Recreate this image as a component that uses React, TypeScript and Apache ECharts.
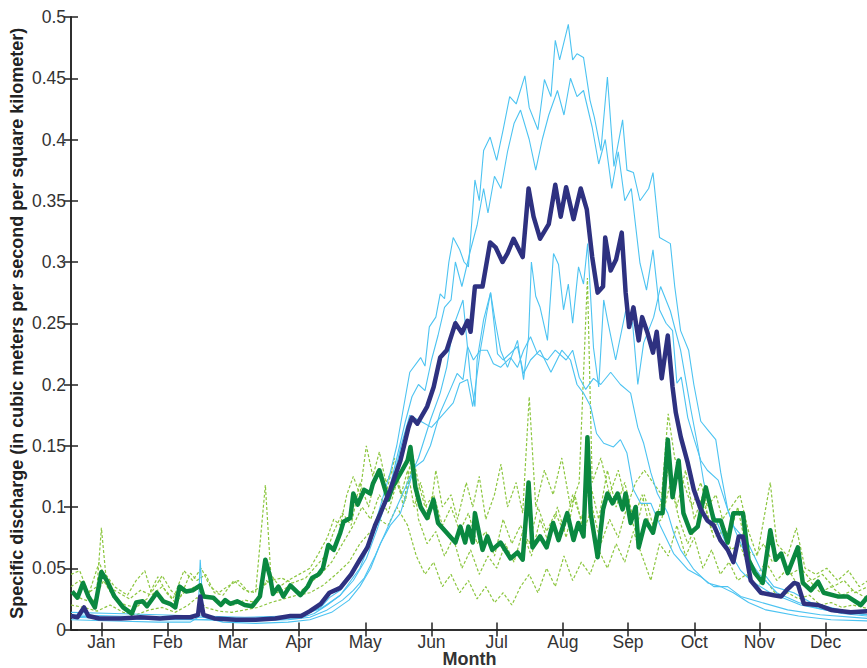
import React, { useEffect, useRef } from "react";
import * as echarts from "echarts";

const months = ["Jan", "Feb", "Mar", "Apr", "May", "Jun", "Jul", "Aug", "Sep", "Oct", "Nov", "Dec"];
const monthTickDays = [14, 44.5, 74.5, 105, 135.5, 166, 196, 226.5, 256.5, 287, 317, 347.5];
const yTicks = [0, 0.05, 0.1, 0.15, 0.2, 0.25, 0.3, 0.35, 0.4, 0.45, 0.5];

// [day of year, specific discharge]
const meanSnowmelt: number[][] = [
  [0, 0.011], [3, 0.010], [6, 0.018], [8, 0.011], [13, 0.009], [23, 0.009], [32, 0.010], [41, 0.009], [48, 0.010], [55, 0.010],
  [58.5, 0.012], [59.5, 0.027], [61, 0.012], [66, 0.009], [76, 0.008], [85, 0.008], [94, 0.009], [101, 0.011], [106, 0.011],
  [110, 0.015], [115, 0.021], [119, 0.030], [124, 0.034], [129, 0.045], [133, 0.057], [136.5, 0.067], [140, 0.085], [142.5, 0.095],
  [147, 0.114], [151.7, 0.138], [155.4, 0.165], [157, 0.173], [159.5, 0.168], [164, 0.182], [167, 0.198], [170, 0.222], [173, 0.228],
  [177, 0.250], [180, 0.242], [182.6, 0.252], [184, 0.243], [186, 0.280], [189.5, 0.280], [193, 0.316], [195.5, 0.312], [198.7, 0.300],
  [201, 0.307], [203.8, 0.319], [208, 0.304], [210.7, 0.360], [213, 0.337], [216, 0.319], [220, 0.331], [223, 0.363], [225.5, 0.337],
  [228, 0.361], [231.4, 0.335], [234.7, 0.360], [237.5, 0.343], [240, 0.304], [242.5, 0.275], [245, 0.280], [246, 0.320], [248.5, 0.293],
  [251, 0.302], [253.6, 0.324], [255.4, 0.275], [257, 0.247], [259, 0.263], [261.4, 0.236], [263, 0.255], [265.5, 0.242], [268, 0.226],
  [269.7, 0.243], [272, 0.205], [274.8, 0.240], [277, 0.198], [278.5, 0.177], [280.8, 0.157], [284, 0.136], [286.8, 0.114], [290, 0.098],
  [293, 0.089], [296, 0.085], [299, 0.073], [302.4, 0.065], [305, 0.055], [307.5, 0.076], [309.4, 0.076], [313, 0.040], [317.7, 0.030],
  [323.6, 0.028], [327, 0.027], [330, 0.033], [333, 0.038], [334.7, 0.037], [337.5, 0.021], [344, 0.020], [350, 0.016], [359, 0.014], [367, 0.015],
];

const meanRain: number[][] = [
  [0.5, 0.031], [3, 0.026], [5.5, 0.038], [8, 0.027], [11, 0.018], [14, 0.047], [16.5, 0.040], [20, 0.027], [24, 0.018], [28, 0.013],
  [30, 0.022], [33, 0.023], [35, 0.019], [39.5, 0.030], [42.5, 0.023], [45.6, 0.021], [48, 0.018], [50, 0.035], [53, 0.031], [56, 0.032],
  [59.5, 0.036], [61, 0.027], [65.5, 0.026], [69, 0.020], [71, 0.024], [73.3, 0.021], [76.5, 0.023], [80, 0.020], [83.5, 0.019], [87, 0.027],
  [89.5, 0.057], [91.7, 0.043], [93, 0.029], [95.5, 0.035], [97.8, 0.027], [101, 0.036], [105.6, 0.028], [109, 0.035], [111, 0.042],
  [114, 0.045], [116, 0.050], [118.5, 0.069], [121, 0.065], [124, 0.079], [125.5, 0.088], [128.6, 0.091], [130, 0.111], [132, 0.102],
  [135, 0.114], [137.8, 0.111], [139, 0.119], [142, 0.130], [146, 0.106], [148, 0.116], [152.5, 0.130], [155, 0.138], [156.3, 0.149],
  [158.6, 0.116], [161, 0.100], [164, 0.091], [166.9, 0.106], [169, 0.087], [173, 0.079], [177, 0.071], [179.3, 0.084], [181.5, 0.071],
  [183, 0.084], [185, 0.071], [186, 0.095], [189.5, 0.065], [191.7, 0.076], [194, 0.065], [197.8, 0.071], [202.4, 0.058], [205.6, 0.063],
  [208, 0.057], [210.7, 0.120], [212.5, 0.067], [216, 0.076], [219, 0.067], [222, 0.087], [224.5, 0.073], [228.5, 0.095], [231.4, 0.073],
  [233.6, 0.087], [236, 0.076], [237.8, 0.157], [239.3, 0.095], [242.5, 0.059], [245, 0.098], [247, 0.111], [249.4, 0.103], [251.7, 0.111],
  [254, 0.098], [255.4, 0.111], [257.7, 0.087], [260, 0.100], [261.4, 0.067], [264.6, 0.089], [268, 0.079], [270, 0.095], [272.4, 0.095],
  [274.8, 0.155], [277, 0.108], [279.8, 0.138], [282, 0.095], [285.4, 0.079], [288.6, 0.084], [292.3, 0.116], [296, 0.089], [299.2, 0.089],
  [302.4, 0.071], [305, 0.095], [309.4, 0.095], [312, 0.057], [315, 0.046], [318.5, 0.038], [322, 0.081], [324.5, 0.057], [327, 0.062],
  [330, 0.046], [334.7, 0.067], [337, 0.038], [340.7, 0.032], [344, 0.039], [346.6, 0.030], [353, 0.027], [357.5, 0.027], [363.7, 0.020], [367, 0.027],
];

const snowA: number[][] = [
  [0, 0.012], [20, 0.011], [40, 0.010], [60, 0.010], [80, 0.009], [100, 0.010], [110, 0.014], [115, 0.018], [119, 0.026], [124, 0.032],
  [129, 0.044], [133, 0.058], [138, 0.075], [142, 0.098], [147, 0.128], [150, 0.15], [153, 0.18], [156, 0.21], [161, 0.222], [163, 0.215],
  [165, 0.247], [168, 0.255], [170, 0.274], [172, 0.27], [174, 0.30], [176, 0.32], [179, 0.31], [181, 0.30], [183, 0.296], [186, 0.367],
  [188, 0.35], [190, 0.391], [193, 0.402], [196, 0.383], [199, 0.408], [202, 0.435], [205, 0.429], [209, 0.452], [211, 0.426], [215, 0.408],
  [218, 0.449], [221, 0.435], [223, 0.481], [225, 0.465], [229, 0.494], [231, 0.465], [233, 0.47], [236, 0.467], [239, 0.432], [241, 0.418],
  [244, 0.391], [247, 0.451], [250, 0.378], [254, 0.416], [256, 0.375], [259, 0.373], [262, 0.35], [266, 0.36], [268, 0.373], [271, 0.32],
  [276, 0.315], [278, 0.28], [280.7, 0.244], [284.4, 0.228], [286.8, 0.20], [290, 0.17], [293.2, 0.163], [296.9, 0.155], [299.2, 0.128],
  [302.4, 0.098], [305.2, 0.084], [311.6, 0.071], [317.6, 0.049], [323.6, 0.035], [332.8, 0.030], [340.7, 0.022], [349.9, 0.018],
  [359.1, 0.014], [367, 0.012],
];

const snowB: number[][] = [
  [0, 0.011], [30, 0.009], [60, 0.008], [90, 0.008], [105, 0.009], [112, 0.013], [118, 0.020], [124, 0.028], [130, 0.040], [136, 0.058],
  [141, 0.082], [146, 0.11], [150, 0.14], [154, 0.17], [157, 0.19], [160, 0.20], [163, 0.195], [166, 0.22], [169, 0.24], [172, 0.263],
  [175, 0.269], [177, 0.30], [180, 0.28], [184, 0.31], [187, 0.33], [190, 0.36], [192, 0.34], [195, 0.37], [198, 0.36], [201, 0.39],
  [204, 0.413], [207, 0.424], [211, 0.40], [214, 0.375], [217, 0.40], [220, 0.42], [224, 0.44], [227, 0.42], [230, 0.45], [233, 0.435],
  [236, 0.44], [240, 0.41], [243, 0.38], [246, 0.40], [249, 0.36], [252, 0.39], [255, 0.35], [258, 0.36], [262, 0.299], [265, 0.277],
  [268, 0.31], [271, 0.261], [274, 0.25], [277, 0.244], [279, 0.201], [281, 0.206], [284, 0.173], [287, 0.155], [290, 0.138], [293, 0.13],
  [298, 0.122], [302, 0.10], [306, 0.08], [311, 0.06], [317, 0.045], [325, 0.03], [335, 0.022], [345, 0.017], [355, 0.013], [367, 0.011],
];

const snowC: number[][] = [
  [0, 0.014], [20, 0.013], [40, 0.012], [60, 0.011], [80, 0.010], [100, 0.011], [106, 0.012], [115, 0.017], [124, 0.028], [133, 0.05],
  [142, 0.09], [148, 0.12], [152, 0.15], [156, 0.175], [161, 0.17], [166, 0.165], [170, 0.173], [176, 0.185], [179, 0.201], [182.6, 0.204],
  [185, 0.182], [188.5, 0.228], [191.7, 0.261], [193.2, 0.275], [195.5, 0.250], [197.8, 0.228], [201, 0.214], [205.6, 0.236], [208.4, 0.204],
  [210.7, 0.239], [212, 0.30], [214, 0.272], [216, 0.263], [219.4, 0.236], [222.2, 0.307], [224.5, 0.298], [226.8, 0.261], [229, 0.282],
  [231, 0.250], [233.7, 0.296], [236, 0.282], [237.9, 0.315], [240.6, 0.23], [243, 0.198], [245.3, 0.269], [247, 0.253], [250.8, 0.22],
  [255.4, 0.26], [258.6, 0.25], [261, 0.20], [263.7, 0.234], [268.3, 0.255], [271.5, 0.28], [276, 0.26], [280.7, 0.228], [285.4, 0.18],
  [288.6, 0.15], [291.4, 0.12], [294.6, 0.10], [299.2, 0.08], [303.8, 0.062], [308.4, 0.048], [313, 0.04], [322, 0.03], [336, 0.02],
  [350, 0.015], [367, 0.012],
];

const snowD: number[][] = [
  [0, 0.010], [20, 0.009], [40, 0.008], [60, 0.008], [80, 0.007], [100, 0.008], [110, 0.010], [118, 0.016], [125, 0.024], [130, 0.032],
  [135, 0.042], [140, 0.06], [145, 0.08], [150, 0.10], [155, 0.12], [160, 0.14], [165.5, 0.171], [170, 0.193], [173, 0.214], [176, 0.247],
  [180.5, 0.269], [183.9, 0.206], [186, 0.182], [187, 0.22], [190, 0.253], [193.2, 0.275], [196.4, 0.225], [199, 0.22], [205.6, 0.231],
  [208.4, 0.209], [211.6, 0.22], [216, 0.228], [221, 0.21], [226, 0.228], [230, 0.22], [233, 0.20], [236, 0.193], [239.3, 0.182],
  [242, 0.16], [245.3, 0.152], [249.8, 0.149], [253, 0.155], [256, 0.144], [259, 0.114], [262.3, 0.103], [267, 0.103], [271.5, 0.084],
  [277.5, 0.062], [284, 0.049], [290, 0.043], [296, 0.035], [302.4, 0.035], [308.4, 0.027], [318, 0.022], [330, 0.016], [345, 0.012], [367, 0.009],
];

const snowE: number[][] = [
  [0, 0.008], [20, 0.007], [40, 0.006], [55, 0.006], [58.5, 0.010], [59.5, 0.057], [61, 0.010], [70, 0.006], [85, 0.005], [100, 0.006],
  [110, 0.008], [120, 0.014], [128, 0.024], [133, 0.035], [138, 0.05], [142.4, 0.07], [147, 0.085], [151.7, 0.095], [156.3, 0.122],
  [158.6, 0.133], [162.3, 0.138], [165.5, 0.150], [170, 0.177], [174.7, 0.196], [177.8, 0.209], [180.5, 0.204], [182.6, 0.231],
  [185.3, 0.220], [188.5, 0.228], [191.7, 0.228], [194.5, 0.217], [197.8, 0.214], [202.4, 0.222], [205.6, 0.214], [208.4, 0.228],
  [211.6, 0.239], [214.8, 0.225], [219.4, 0.220], [223, 0.228], [228, 0.22], [231, 0.228], [234, 0.206], [237, 0.196], [240.6, 0.205],
  [243.9, 0.20], [248.5, 0.21], [253, 0.20], [257.7, 0.193], [261, 0.165], [263.7, 0.152], [267, 0.128], [270, 0.111], [274.8, 0.095],
  [277.5, 0.079], [280.7, 0.065], [286.8, 0.049], [293.2, 0.038], [299.2, 0.035], [305, 0.030], [312, 0.022], [320, 0.016], [335, 0.011],
  [350, 0.008], [367, 0.007],
];

const rainA: number[][] = [
  [0, 0.045], [4, 0.048], [8, 0.030], [12, 0.035], [14, 0.083], [16, 0.045], [20, 0.035], [26, 0.028], [30, 0.040], [34, 0.048], [37, 0.030],
  [42, 0.044], [46, 0.032], [50, 0.025], [55, 0.046], [58, 0.040], [62, 0.045], [66, 0.030], [70, 0.028], [75, 0.040], [80, 0.032],
  [85, 0.030], [89.5, 0.118], [92, 0.045], [96, 0.035], [100, 0.040], [105, 0.045], [110, 0.050], [114, 0.062], [118, 0.075], [121, 0.09],
  [124, 0.085], [127, 0.11], [130, 0.125], [133, 0.11], [136, 0.15], [139, 0.125], [142, 0.145], [145, 0.12], [148, 0.13], [152, 0.11],
  [155, 0.13], [158, 0.10], [161, 0.12], [165, 0.09], [168, 0.13], [171, 0.10], [175, 0.11], [178, 0.09], [182, 0.12], [185, 0.10],
  [188, 0.125], [191, 0.09], [195, 0.11], [198, 0.135], [201, 0.10], [205, 0.12], [208, 0.095], [211, 0.19], [214, 0.10], [218, 0.13],
  [222, 0.11], [226, 0.14], [230, 0.10], [234, 0.12], [237.8, 0.287], [240, 0.12], [244, 0.14], [248, 0.11], [252, 0.13], [256, 0.10],
  [260, 0.12], [264, 0.13], [268, 0.12], [272, 0.11], [275, 0.176], [278, 0.14], [282, 0.12], [286, 0.10], [290, 0.12], [293, 0.10],
  [297, 0.11], [300, 0.09], [304, 0.10], [308, 0.11], [312, 0.08], [316, 0.06], [322, 0.12], [325, 0.07], [330, 0.06], [334, 0.083],
  [338, 0.05], [343, 0.045], [348, 0.05], [353, 0.04], [358, 0.048], [363, 0.035], [367, 0.04],
];

const rainB: number[][] = [
  [0, 0.030], [5, 0.025], [10, 0.022], [15, 0.040], [20, 0.025], [25, 0.020], [30, 0.018], [35, 0.025], [40, 0.043], [44, 0.030],
  [48, 0.022], [52, 0.030], [57, 0.035], [60, 0.030], [65, 0.025], [70, 0.022], [75, 0.020], [80, 0.024], [85, 0.022], [90, 0.040],
  [95, 0.030], [100, 0.035], [105, 0.030], [110, 0.038], [115, 0.045], [120, 0.055], [125, 0.07], [130, 0.085], [134, 0.10], [138, 0.09],
  [142, 0.11], [146, 0.095], [150, 0.12], [154, 0.105], [157, 0.135], [160, 0.09], [164, 0.07], [168, 0.08], [172, 0.06], [176, 0.075],
  [180, 0.05], [184, 0.065], [188, 0.045], [192, 0.06], [196, 0.05], [200, 0.07], [204, 0.055], [208, 0.08], [212, 0.06], [216, 0.09],
  [220, 0.07], [224, 0.10], [228, 0.075], [232, 0.11], [236, 0.08], [240, 0.10], [244, 0.07], [248, 0.09], [252, 0.075], [256, 0.10],
  [260, 0.08], [264, 0.11], [268, 0.085], [272, 0.09], [276, 0.12], [280, 0.09], [284, 0.07], [288, 0.085], [292, 0.10], [296, 0.075],
  [300, 0.08], [304, 0.065], [308, 0.07], [312, 0.05], [316, 0.045], [320, 0.055], [325, 0.04], [330, 0.05], [335, 0.035], [340, 0.04],
  [345, 0.03], [350, 0.035], [355, 0.028], [360, 0.032], [367, 0.025],
];

const rainC: number[][] = [
  [0, 0.020], [6, 0.018], [12, 0.015], [18, 0.020], [24, 0.014], [30, 0.012], [36, 0.016], [42, 0.018], [48, 0.014], [54, 0.020],
  [58, 0.026], [62, 0.018], [68, 0.015], [74, 0.014], [80, 0.016], [86, 0.018], [92, 0.022], [98, 0.025], [104, 0.028], [110, 0.030],
  [116, 0.036], [122, 0.045], [128, 0.055], [133, 0.07], [138, 0.08], [142, 0.09], [146, 0.085], [150, 0.10], [155, 0.085], [159, 0.06],
  [163, 0.045], [167, 0.055], [171, 0.035], [175, 0.045], [179, 0.03], [183, 0.04], [187, 0.025], [191, 0.035], [195, 0.022], [199, 0.03],
  [203, 0.02], [207, 0.035], [211, 0.045], [215, 0.03], [219, 0.05], [223, 0.035], [227, 0.06], [231, 0.04], [235, 0.055], [239, 0.045],
  [243, 0.065], [247, 0.05], [251, 0.07], [255, 0.055], [259, 0.08], [263, 0.06], [267, 0.04], [271, 0.07], [275, 0.06], [279, 0.085],
  [283, 0.06], [287, 0.075], [291, 0.05], [295, 0.065], [299, 0.045], [303, 0.055], [307, 0.04], [311, 0.045], [315, 0.035], [320, 0.04],
  [325, 0.028], [330, 0.03], [335, 0.025], [340, 0.028], [345, 0.02], [350, 0.022], [355, 0.018], [360, 0.02], [367, 0.017],
];

const rainD: number[][] = [
  [0, 0.035], [4, 0.040], [8, 0.028], [13, 0.055], [17, 0.035], [22, 0.030], [27, 0.025], [32, 0.032], [37, 0.028], [42, 0.035],
  [47, 0.025], [52, 0.048], [56, 0.040], [60, 0.050], [64, 0.035], [68, 0.030], [72, 0.035], [77, 0.040], [82, 0.030], [88, 0.035],
  [92, 0.040], [97, 0.042], [102, 0.038], [108, 0.042], [112, 0.050], [117, 0.060], [121, 0.080], [125, 0.095], [129, 0.085], [133, 0.12],
  [137, 0.10], [141, 0.13], [145, 0.11], [149, 0.14], [153, 0.10], [157, 0.145], [160, 0.12], [163, 0.10], [167, 0.11], [171, 0.085],
  [175, 0.10], [179, 0.08], [183, 0.095], [187, 0.07], [191, 0.08], [195, 0.06], [199, 0.09], [203, 0.07], [207, 0.085], [211, 0.07],
  [215, 0.10], [219, 0.08], [223, 0.095], [227, 0.08], [231, 0.11], [235, 0.09], [239, 0.12], [243, 0.09], [247, 0.13], [251, 0.10],
  [255, 0.12], [259, 0.09], [263, 0.11], [267, 0.08], [271, 0.10], [275, 0.13], [279, 0.10], [283, 0.13], [287, 0.09], [291, 0.11],
  [295, 0.08], [299, 0.09], [303, 0.075], [307, 0.10], [311, 0.065], [315, 0.06], [319, 0.07], [323, 0.055], [327, 0.06], [331, 0.045],
  [336, 0.05], [341, 0.04], [346, 0.045], [351, 0.035], [356, 0.04], [361, 0.03], [367, 0.035],
];

const snowSeries = [snowA, snowB, snowC, snowD, snowE];
const rainSeries = [rainA, rainB, rainC, rainD];

const FONT = "'Liberation Sans', Arial, Helvetica, sans-serif";
const AXIS_COLOR = "#222";
const LABEL_COLOR = "#333";

export default function App() {
  const ref = useRef<HTMLDivElement>(null);

  useEffect(() => {
    document.body.style.margin = "0";
    if (!ref.current) return;
    const chart = echarts.init(ref.current, undefined, { renderer: "svg" });

    const thin = (data: number[][], color: string, dashed: boolean) => ({
      type: "line",
      data,
      symbol: "none",
      silent: true,
      lineStyle: { color, width: dashed ? 1.2 : 1.1, type: dashed ? [3, 2] : "solid" },
      z: 2,
    });

    const series: any[] = [
      ...rainSeries.map((d) => thin(d, "#8cc63f", true)),
      ...snowSeries.map((d) => thin(d, "#4cc3f1", false)),
      {
        type: "line",
        data: meanRain,
        symbol: "none",
        lineStyle: { color: "#0a8840", width: 4.5, join: "round" },
        z: 3,
      },
      {
        type: "line",
        data: meanSnowmelt,
        symbol: "none",
        lineStyle: { color: "#2e3180", width: 4.5, join: "round" },
        z: 4,
      },
    ];

    const tickDef = { show: true, inside: true, length: 7, lineStyle: { color: AXIS_COLOR, width: 1.5 } };

    chart.setOption({
      animation: false,
      textStyle: { fontFamily: FONT },
      grid: { left: 71, top: 17, right: -1, bottom: 38.5, containLabel: false, outerBoundsMode: "none" },
      xAxis: [
        {
          type: "value",
          min: 0,
          max: 367,
          position: "bottom",
          name: "Month",
          nameLocation: "middle",
          nameGap: 20,
          nameMoveOverlap: false,
          nameTextStyle: {
            fontFamily: FONT,
            fontSize: 18,
            lineHeight: 18,
            fontWeight: "bold",
            color: LABEL_COLOR,
            verticalAlign: "top",
          },
          axisLine: { show: true, lineStyle: { color: AXIS_COLOR, width: 1.5 } },
          axisTick: { ...tickDef, customValues: monthTickDays },
          axisLabel: {
            customValues: monthTickDays,
            formatter: (v: number) => {
              const i = monthTickDays.findIndex((d) => Math.abs(d - v) < 0.01);
              return i >= 0 ? months[i] : "";
            },
            fontFamily: FONT,
            fontSize: 17.5,
            color: LABEL_COLOR,
            margin: 3,
          },
          splitLine: { show: false },
        },
        {
          type: "value",
          min: 0,
          max: 367,
          position: "top",
          axisLine: { show: true, lineStyle: { color: AXIS_COLOR, width: 1.5 } },
          axisTick: { ...tickDef, customValues: monthTickDays },
          axisLabel: { show: false },
          splitLine: { show: false },
        },
      ],
      yAxis: [
        {
          type: "value",
          min: 0,
          max: 0.5,
          interval: 0.05,
          position: "left",
          name: "Specific discharge (in cubic meters per second per square kilometer)",
          nameLocation: "middle",
          nameGap: 45,
          nameMoveOverlap: false,
          nameTextStyle: { fontFamily: FONT, fontSize: 18, fontWeight: "bold", color: "#222" },
          axisLine: { show: true, lineStyle: { color: AXIS_COLOR, width: 1.5 } },
          axisTick: tickDef,
          axisLabel: {
            customValues: yTicks,
            formatter: (v: number) => String(parseFloat(v.toFixed(2))),
            fontFamily: FONT,
            fontSize: 17.5,
            color: LABEL_COLOR,
            margin: 5,
          },
          splitLine: { show: false },
        },
        {
          type: "value",
          min: 0,
          max: 0.5,
          interval: 0.05,
          position: "right",
          axisLine: { show: true, lineStyle: { color: AXIS_COLOR, width: 1.5 } },
          axisTick: tickDef,
          axisLabel: { show: false },
          splitLine: { show: false },
        },
      ],
      series,
    });

    return () => chart.dispose();
  }, []);

  return <div ref={ref} style={{ width: 867, height: 668 }} />;
}
